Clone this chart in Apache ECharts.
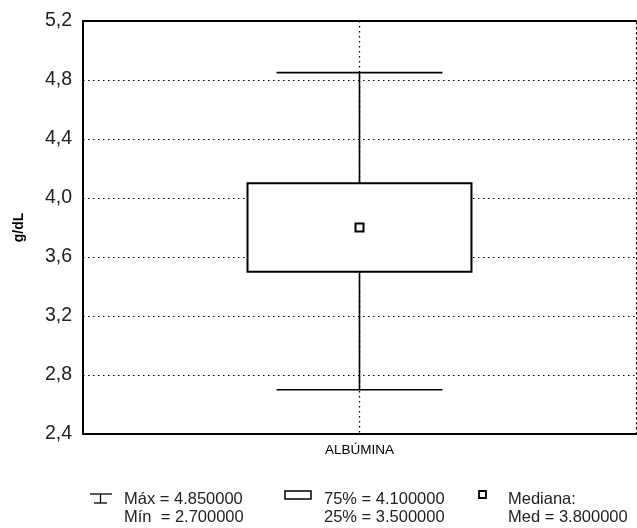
<!DOCTYPE html>
<html><head><meta charset="utf-8">
<script src="https://cdn.jsdelivr.net/npm/echarts@6/dist/echarts.min.js"></script>
<style>html,body{margin:0;padding:0;background:#fff}#c{width:637px;height:528px}</style>
</head><body><div id="c"></div>
<script>
const categories = ['ALBÚMINA'];
const minVals = [2.70];
const q1Vals = [3.50];
const medVals = [3.80];
const q3Vals = [4.10];
const maxVals = [4.85];
const yTicks = [2.4, 2.8, 3.2, 3.6, 4.0, 4.4, 4.8, 5.2];
const yName = 'g/dL';

const FONT = 'Liberation Sans, Arial, sans-serif';
const data = categories.map((c, i) => [i, minVals[i], q1Vals[i], medVals[i], q3Vals[i], maxVals[i]]);
const dots = [1.5, 3.5];

const chart = echarts.init(document.getElementById('c'), null, {renderer: 'canvas'});
const fmt = v => v.toFixed(6);
const legText = (x, y, t) => ({type: 'text', x: x, y: y,
  style: {text: t, fontFamily: FONT, fontSize: 16.5, fill: '#222', verticalAlign: 'middle', align: 'left'}});
chart.setOption({
  animation: false,
  backgroundColor: '#fff',
  grid: {left: 83, top: 21, right: 1, bottom: 94},
  xAxis: [{
    type: 'category', data: categories, position: 'bottom',
    axisLine: {lineStyle: {color: '#000', width: 2}},
    axisTick: {show: false},
    axisLabel: {color: '#000', fontFamily: FONT, fontSize: 13.5, margin: 9},
    splitLine: {show: false}
  }, {
    type: 'category', data: categories, position: 'top',
    axisLine: {lineStyle: {color: '#000', width: 2}},
    axisTick: {show: false}, axisLabel: {show: false}
  }],
  yAxis: [{
    type: 'value', min: yTicks[0], max: yTicks[yTicks.length - 1], interval: 0.4,
    name: yName, nameLocation: 'middle', nameGap: 57,
    nameTextStyle: {color: '#000', fontFamily: FONT, fontSize: 14, fontWeight: 'bold'},
    axisLine: {show: true, lineStyle: {color: '#000', width: 2}},
    axisTick: {show: false},
    axisLabel: {color: '#222', fontFamily: FONT, fontSize: 19.5, margin: 11,
      formatter: v => v.toFixed(1).replace('.', ',')},
    splitLine: {show: true, lineStyle: {color: '#000', width: 1.2, type: dots}}
  }, {
    type: 'value', min: yTicks[0], max: yTicks[yTicks.length - 1], interval: 0.4,
    position: 'right',
    axisLine: {show: true, lineStyle: {color: '#000', width: 1.2, type: dots}},
    axisTick: {show: false}, axisLabel: {show: false}, splitLine: {show: false}
  }],
  series: [{
    type: 'custom',
    data: data,
    encode: {x: 0, y: [1, 2, 3, 4, 5]},
    renderItem: function (params, api) {
      const x = api.value(0);
      const pMin = api.coord([x, api.value(1)]);
      const pQ1 = api.coord([x, api.value(2)]);
      const pMed = api.coord([x, api.value(3)]);
      const pQ3 = api.coord([x, api.value(4)]);
      const pMax = api.coord([x, api.value(5)]);
      const bw = api.size([1, 0])[0];
      const boxW = bw * 0.405, capW = bw * 0.30;
      const cx = pMed[0];
      const cs = params.coordSys;
      const blk = {stroke: '#000', lineWidth: 1.6, fill: null};
      return {
        type: 'group',
        children: [
          {type: 'line', shape: {x1: cx, y1: cs.y, x2: cx, y2: cs.y + cs.height},
            style: {stroke: '#000', lineWidth: 1.3, lineDash: dots}},
          {type: 'line', shape: {x1: cx, y1: pMax[1], x2: cx, y2: pMin[1]}, style: blk},
          {type: 'line', shape: {x1: cx - capW / 2, y1: pMax[1], x2: cx + capW / 2, y2: pMax[1]}, style: blk},
          {type: 'line', shape: {x1: cx - capW / 2, y1: pMin[1], x2: cx + capW / 2, y2: pMin[1]}, style: blk},
          {type: 'rect', shape: {x: cx - boxW / 2, y: pQ3[1], width: boxW, height: pQ1[1] - pQ3[1]},
            style: {stroke: '#000', lineWidth: 2, fill: '#fff'}},
          {type: 'rect', shape: {x: cx - 4, y: pMed[1] - 4, width: 8, height: 8},
            style: {stroke: '#000', lineWidth: 2, fill: '#fff'}}
        ]
      };
    }
  }],
  graphic: [
    {type: 'line', shape: {x1: 90, y1: 494, x2: 112, y2: 494}, style: {stroke: '#000', lineWidth: 1.3}},
    {type: 'line', shape: {x1: 100.5, y1: 494, x2: 100.5, y2: 503}, style: {stroke: '#000', lineWidth: 1.3}},
    {type: 'line', shape: {x1: 94, y1: 503, x2: 107, y2: 503}, style: {stroke: '#000', lineWidth: 1.3}},
    legText(124, 499, 'Máx = ' + fmt(maxVals[0])),
    legText(124, 517, 'Mín  = ' + fmt(minVals[0])),
    {type: 'rect', shape: {x: 285, y: 491, width: 26, height: 8}, style: {stroke: '#000', lineWidth: 1.5, fill: '#fff'}},
    legText(324, 499, '75% = ' + fmt(q3Vals[0])),
    legText(324, 517, '25% = ' + fmt(q1Vals[0])),
    {type: 'rect', shape: {x: 479, y: 491, width: 7, height: 7}, style: {stroke: '#000', lineWidth: 1.8, fill: '#fff'}},
    legText(508, 499, 'Mediana:'),
    legText(508, 517, 'Med = ' + fmt(medVals[0]))
  ]
});
</script></body></html>
